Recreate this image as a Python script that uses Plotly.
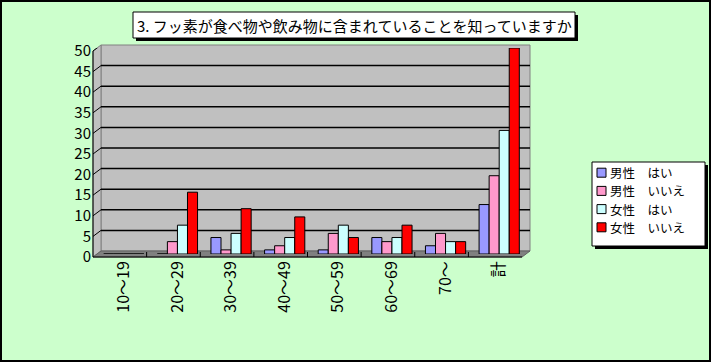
import plotly.graph_objects as go

# ---------------- data ----------------
categories = ["10～19", "20～29", "30～39", "40～49", "50～59", "60～69", "70～", "計"]
series_names = ["男性　はい", "男性　いいえ", "女性　はい", "女性　いいえ"]
male_yes = [0, 0, 4, 1, 1, 4, 2, 12]
male_no = [0, 3, 1, 2, 5, 3, 5, 19]
female_yes = [0, 7, 5, 4, 7, 4, 3, 30]
female_no = [0, 15, 11, 9, 4, 7, 3, 50]
y_ticks = [0, 5, 10, 15, 20, 25, 30, 35, 40, 45, 50]
title_text = "3. フッ素が食べ物や飲み物に含まれていることを知っていますか"

series_values = [male_yes, male_no, female_yes, female_no]
colors = ["#9999FF", "#FF99CC", "#CCFFFF", "#FF0000"]

FONT = "Noto Sans CJK JP"
W, H = 711, 362
FL, FR, FT, FB = 93, 522, 51, 257   # front plane of the 3D box (pixels)
DX, DY = 8, 6                       # depth of the 3D box
MX, MY = 4, 3                       # bars stand at mid depth
L, R, T, B = FL + MX, FR + MX, FT - MY, FB - MY  # plotly plot area


def px(x):
    return (x - L) / (R - L)


def py(y):
    return (B - y) / (B - T)


fig = go.Figure()
for name, vals, col in zip(series_names, series_values, colors):
    fig.add_trace(go.Bar(
        x=categories, y=vals, name=name,
        marker=dict(color=col, line=dict(color="black", width=1)),
        showlegend=False,
    ))

shapes = []
# back wall
shapes.append(dict(type="rect", xref="paper", yref="paper",
                   x0=px(FL + DX), x1=px(FR + DX), y0=py(FB - DY), y1=py(FT - DY),
                   fillcolor="#C0C0C0", line=dict(color="#808080", width=1), layer="below"))
# side wall
shapes.append(dict(type="path", xref="paper", yref="paper",
                   path=f"M{px(FL)},{py(FB)} L{px(FL)},{py(FT)} L{px(FL+DX)},{py(FT-DY)} L{px(FL+DX)},{py(FB-DY)} Z",
                   fillcolor="#C0C0C0", line=dict(color="#808080", width=1), layer="below"))
# floor
shapes.append(dict(type="path", xref="paper", yref="paper",
                   path=f"M{px(FL)},{py(FB)} L{px(FL+DX)},{py(FB-DY)} L{px(FR+DX)},{py(FB-DY)} L{px(FR)},{py(FB)} Z",
                   fillcolor="#808080", line=dict(color="#606060", width=1), layer="below"))
# gridlines on back wall and diagonals on side wall
for v in y_ticks[1:]:
    if v < y_ticks[-1]:
        shapes.append(dict(type="line", xref="paper", yref="y", ysizemode="pixel", yanchor=v,
                           x0=px(FL + DX), x1=px(FR + DX), y0=DY - MY, y1=DY - MY,
                           line=dict(color="black", width=1.5), layer="between"))
    shapes.append(dict(type="line", xref="paper", yref="y", ysizemode="pixel", yanchor=v,
                       x0=px(FL), x1=px(FL + DX), y0=-MY, y1=DY - MY,
                       line=dict(color="black", width=1), layer="between"))
# front axis lines
shapes.append(dict(type="line", xref="paper", yref="paper",
                   x0=px(FL), x1=px(FL), y0=py(FB), y1=py(FT),
                   line=dict(color="black", width=1), layer="above"))
shapes.append(dict(type="line", xref="paper", yref="paper",
                   x0=px(FL), x1=px(FR), y0=py(FB), y1=py(FB),
                   line=dict(color="black", width=1), layer="above"))
# category boundary ticks on the floor
for i in range(len(categories) - 1):
    shapes.append(dict(type="line", xref="x", yref="paper", xsizemode="pixel", xanchor=i + 0.5,
                       x0=-MX, x1=-MX, y0=py(FB), y1=py(FB - 5),
                       line=dict(color="black", width=1), layer="above"))

# outer border
shapes.append(dict(type="rect", xref="paper", yref="paper",
                   x0=px(1), x1=px(W - 1), y0=py(1), y1=py(H - 1),
                   line=dict(color="black", width=2), layer="above"))

# title box with shadow
shapes.append(dict(type="rect", xref="paper", yref="paper",
                   x0=px(136), x1=px(578), y0=py(15), y1=py(41),
                   fillcolor="black", line=dict(width=0), layer="above"))
shapes.append(dict(type="rect", xref="paper", yref="paper",
                   x0=px(133), x1=px(575), y0=py(12), y1=py(38),
                   fillcolor="white", line=dict(color="black", width=1), layer="above"))

# legend box with shadow
shapes.append(dict(type="rect", xref="paper", yref="paper",
                   x0=px(595), x1=px(708), y0=py(165), y1=py(249),
                   fillcolor="black", line=dict(width=0), layer="above"))
shapes.append(dict(type="rect", xref="paper", yref="paper",
                   x0=px(592), x1=px(705), y0=py(162), y1=py(246),
                   fillcolor="white", line=dict(color="black", width=1), layer="above"))

annotations = [dict(text=title_text, xref="paper", yref="paper",
                    x=px(354), y=py(25), xanchor="center", yanchor="middle",
                    showarrow=False, font=dict(family=FONT, size=15, color="black"))]

row_y = [172.7, 190.9, 209.1, 227.3]
for name, col, ry in zip(series_names, colors, row_y):
    shapes.append(dict(type="rect", xref="paper", yref="paper",
                       x0=px(597), x1=px(606), y0=py(ry - 4.5), y1=py(ry + 4.5),
                       fillcolor=col, line=dict(color="black", width=1), layer="above"))
    annotations.append(dict(text=name, xref="paper", yref="paper",
                            x=px(609), y=py(ry), xanchor="left", yanchor="middle",
                            showarrow=False, borderpad=0,
                            font=dict(family=FONT, size=12.5, color="black")))

fig.update_layout(
    width=W, height=H,
    margin=dict(l=L, r=W - R, t=T, b=H - B, pad=0),
    paper_bgcolor="#CCFFCC",
    plot_bgcolor="rgba(0,0,0,0)",
    barmode="group", bargap=0.25, bargroupgap=0,
    font=dict(family=FONT, size=14, color="black"),
    shapes=shapes, annotations=annotations,
    showlegend=False,
    xaxis=dict(showgrid=False, showline=False, ticks="", zeroline=False,
               tickangle=-90, ticklabelstandoff=3,
               tickfont=dict(family=FONT, size=16, color="black")),
    yaxis=dict(range=[0, 50], tickvals=y_ticks, showgrid=False, zeroline=False,
               showline=False, ticks="", ticklabelshift=MY, ticklabelstandoff=5,
               tickfont=dict(family=FONT, size=15, color="black")),
)

fig.write_html("out.html", config={"displayModeBar": False},
               post_script="document.body.style.margin='0';document.body.style.overflow='hidden';")
